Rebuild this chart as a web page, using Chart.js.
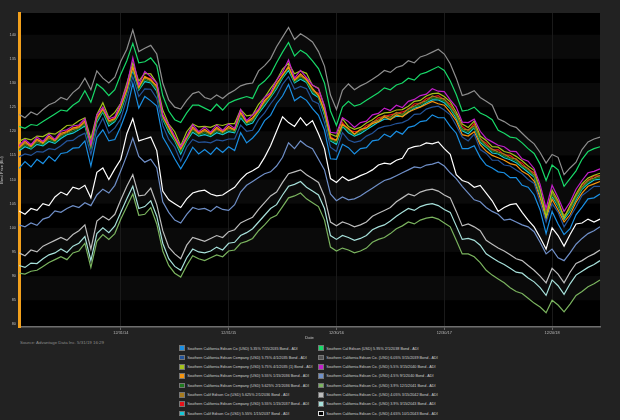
<!DOCTYPE html>
<html>
<head>
<meta charset="utf-8">
<script src="https://cdn.jsdelivr.net/npm/chart.js@4.4.0/dist/chart.umd.min.js"></script>
<style>
  body { margin:0; background:#222; width:620px; height:420px; overflow:hidden; font-family:"Liberation Sans", Arial, sans-serif; }
  #chart { position:absolute; left:0; top:0; }
  #source { position:absolute; left:20px; top:339.5px; font-size:4.4px; color:#8c8c8c; white-space:nowrap; }
  .col { position:absolute; top:344.5px; }
  .item { height:9.33px; line-height:9.33px; font-size:3.75px; color:#d0d0d0; white-space:nowrap; }
  .box { display:inline-block; width:3.6px; height:3.6px; border:0.6px solid #777; vertical-align:middle; margin-right:2.6px; position:relative; top:-0.3px; }
</style>
</head>
<body>
<canvas id="chart" width="620" height="340"></canvas>
<div id="source">Source: Advantage Data Inc. 5/31/19 16:29</div>
<div id="legL" class="col" style="left:179px"></div>
<div id="legR" class="col" style="left:318px"></div>
<script>
// x axis: one category per point, labelled only at these points
const xTickIdx = [17, 35, 53, 71, 89];
const xTickLabels = ['12/31/14', '12/31/15', '12/30/16', '12/30/17', '12/20/18'];
const yTicks = [80, 85, 90, 95, 100, 105, 110, 115, 120, 125, 130, 135, 140];

const seriesNames = [
  'Southern California Edison Co (USD) 5.35% 7/15/2035 Bond - ADI',
  'Southern California Edison Company (USD) 5.75% 4/1/2035 Bond - ADI',
  'Southern California Edison Company (USD) 5.75% 4/1/2035 (1) Bond - ADI',
  'Southern California Edison Company (USD) 5.55% 1/15/2036 Bond - ADI',
  'Southern California Edison Company (USD) 5.625% 2/1/2036 Bond - ADI',
  'Southern Calif Edison Co (USD) 5.625% 2/1/2036 Bond - ADI',
  'Southern California Edison Company (USD) 5.55% 1/15/2037 Bond - ADI',
  'Southern Calif Edison Co (USD) 5.55% 1/15/2037 Bond - ADI',
  'Southern Cal Edison (USD) 5.95% 2/1/2038 Bond - ADI',
  'Southern California Edison Co. (USD) 6.05% 3/15/2039 Bond - ADI',
  'Southern California Edison Co. (USD) 5.5% 3/15/2040 Bond - ADI',
  'Southern California Edison Co. (USD) 4.5% 9/1/2040 Bond - ADI',
  'Southern California Edison Co. (USD) 3.9% 12/1/2041 Bond - ADI',
  'Southern California Edison Co. (USD) 4.05% 3/15/2042 Bond - ADI',
  'Southern California Edison Co. (USD) 3.9% 3/15/2043 Bond - ADI',
  'Southern California Edison Co. (USD) 4.65% 10/1/2043 Bond - ADI'
];
const lineColors = ['#1a8fe3','#24549a','#a4c21c','#f5950f','#1f7a1f','#a87b1e','#e8121a','#16c8d8',
                    '#18d868','#8e8e8e','#c21fc9','#6f8fc8','#7ab35e','#bdbdbd','#a6e0da','#ffffff'];
const boxColors  = ['#1a8fe3','#24549a','#a4c21c','#f5950f','#1f7a1f','#a87b1e','#e8121a','#16c8d8',
                    '#18d868','#555555','#c21fc9','#6f8fc8','#7ab35e','#bdbdbd','#a6e0da','#000000'];

const sce535_2035 = [112.3,113.7,112.6,114.2,113.3,114.8,113.8,115.4,115.6,116.5,
  116.6,118,112.8,118.7,120.3,118,118.3,121,124.3,129.9,
  124.8,127.2,126.3,125.2,118.8,116.7,114.3,112.2,114.3,116.7,
  115.3,116.2,115.2,116.6,115.6,116.8,116,119.7,117.6,118.6,
  120,122.2,123.3,125.7,127.3,129.7,126.3,127.2,126.4,124.7,
  123.3,120.2,114.3,114.2,117.3,116.6,115.3,116.4,116.6,118,
  118.2,119.4,118.8,120,119.4,120.8,121.1,122,122.2,123.4,
  122.8,122.8,121,119.6,116.4,116.4,117,114.6,113,112.4,
  111.6,111.4,110.4,110.4,108.8,108.4,106.8,103.7,98.8,103.4,
  100.8,98.6,99.8,102.7,104.3,106,106.2,107];
const sce575_2035 = [114.7,115.3,115,115.8,115.7,116.4,116.2,117,118,118.1,
  119,119.6,115.2,120.3,122.7,119.6,120.7,122.6,126.7,131.3,
  127.2,128.8,128.7,126.8,121.2,118.3,116.7,113.8,116.7,118.3,
  117.7,117.8,117.6,118.2,118,118.4,118.4,121.3,120,120.2,
  122.4,123.8,125.7,127.3,129.7,131.3,128.7,129.3,128.8,126.3,
  125.7,121.8,116.7,115.8,119.7,118.2,117.7,118,119,119.6,
  120.6,121,121.2,121.6,121.8,122.4,123.5,123.6,124.6,125,
  125.2,124.4,123.4,121.2,118.8,118,119.4,116.2,115.4,114,
  114,113,112.8,112,111.2,110,109.2,105.3,101.2,105,
  103.2,100.2,102.2,104.3,106.7,107.6,108.6,108.6];
const sce575_2035b = [117.9,118.5,118.2,119,118.9,119.6,119.4,120.2,121.2,121.3,
  122.2,122.8,118.4,123.5,125.9,122.8,123.9,125.8,129.9,134.2,
  130.4,132,131.9,130,124.4,121.5,119.9,117,119.9,121.5,
  120.9,121,120.8,121.4,121.2,121.6,121.6,124.5,123.2,123.4,
  125.6,127,128.9,130.5,132.9,134.1,131.9,132.5,132,129.5,
  128.9,125,119.4,118.9,122.6,121,120.4,120.8,121.7,122.4,
  123.3,123.8,123.9,124.4,124.5,125.2,126.2,126.4,127.3,127.8,
  127.9,127.2,126.1,124,121.5,120.8,122.1,119,118.1,116.8,
  116.7,115.8,115.5,114.8,113.9,112.8,111.9,108.1,102.2,107.8,
  105.6,102,104.6,107,109.1,110.3,110.9,111.3];
const sce555_2036 = [116.6,117.9,116.9,118.4,117.6,119,118.1,119.6,119.9,120.7,
  120.9,122.2,117.1,122.9,124.6,122.2,122.6,125.2,128.6,133.3,
  129.1,131.4,130.6,129.4,123.1,120.9,118.6,116.4,118.6,120.9,
  119.6,120.4,119.5,120.8,119.9,121,120.3,123.9,121.9,122.8,
  124.3,126.4,127.6,129.9,131.6,133.3,130.6,131.9,130.7,128.9,
  127.4,124.2,118.6,118.2,121.4,120.6,119.4,120.4,120.7,121.6,
  122,123,122.4,123.4,123,124,124.5,125,125.6,126.2,
  125.7,125.4,123.9,122.2,119.3,119,119.9,117.2,115.9,115,
  114.5,114,113.3,113,111.7,111,109.7,106.2,101.8,105.9,
  103.7,101.2,102.7,105.3,107.2,108.6,109.1,109.6];
const sce5625_2036 = [116.2,117.2,116.5,117.7,117.2,118.3,117.7,118.9,119.5,120,
  120.5,121.5,116.7,122.2,124.2,121.5,122.2,124.5,128.2,133.1,
  128.7,130.7,130.2,128.7,122.7,120.2,118.2,115.7,118.2,120.2,
  119.2,119.7,119.1,120.1,119.5,120.3,119.9,123.2,121.5,122.1,
  123.9,125.7,127.2,129.2,131.2,133.1,130.2,131.2,130.3,128.2,
  127.2,123.7,118.2,117.7,121.2,120.1,119.2,119.9,120.5,121.5,
  122.1,122.9,122.7,123.5,123.3,124.3,125,125.5,126.1,126.9,
  126.7,126.3,124.9,123.1,120.3,119.9,120.9,118.1,116.9,115.9,
  115.5,114.9,114.3,113.9,112.7,111.9,110.7,107.2,102.7,106.9,
  104.7,102.1,103.7,106.2,108.2,109.5,110.1,110.5];
const calif5625_2036 = [116.4,117.6,116.7,118.1,117.4,118.7,117.9,119.3,119.7,120.4,
  120.7,121.9,116.9,122.6,124.4,121.9,122.4,124.9,128.4,133.4,
  128.9,131.1,130.4,129.1,122.9,120.6,118.4,116.1,118.4,120.6,
  119.4,120.1,119.3,120.5,119.7,120.7,120.1,123.6,121.7,122.5,
  124.1,126.1,127.4,129.6,131.4,133.6,130.4,131.6,130.5,128.6,
  127.4,124.1,118.4,118.1,121.4,120.5,119.4,120.3,120.7,121.9,
  122.3,123.3,122.9,123.9,123.5,124.7,125.2,125.9,126.3,127.3,
  126.9,126.7,125.1,123.5,120.5,120.3,121.1,118.5,117.1,116.3,
  115.7,115.3,114.5,114.3,112.9,112.3,110.9,107.6,102.9,107.3,
  104.9,102.5,103.9,106.6,108.4,109.9,110.3,110.9];
const sce555_2037 = [116.8,117.4,117.3,118.1,117.9,118.5,118.4,119.1,120.2,120.4,
  121.2,121.6,117.5,122.4,124.9,121.9,122.9,124.7,128.8,133.2,
  129.4,131.1,130.9,128.9,123.4,120.4,118.9,116.2,118.8,120.4,
  119.9,120.1,119.8,120.3,120.2,120.5,120.6,123.4,122.2,122.3,
  124.6,125.9,127.9,129.4,131.8,133.2,130.9,131.4,131,128.4,
  127.9,123.9,118.9,117.9,121.8,120.3,119.9,120.1,121.2,121.7,
  122.8,123.1,123.4,123.7,124,124.5,125.7,125.7,126.8,127.1,
  127.4,126.5,125.6,123.3,121,120.1,121.6,118.3,117.6,116.1,
  116.2,115.1,115,114.1,113.4,112.1,111.4,107.4,103.4,107.1,
  105.4,102.3,104.4,106.4,108.9,109.7,110.8,110.7];
const calif555_2037 = [115.9,116.8,116.3,117.3,117,117.9,117.5,118.5,119.3,119.6,
  120.3,121.1,116.5,121.8,124,121.1,122,124.1,128,132.6,
  128.5,130.3,130,128.3,122.5,119.8,118,115.3,118,119.8,
  119,119.3,118.9,119.7,119.3,119.9,119.7,122.8,121.3,121.7,
  123.7,125.3,127,128.8,131,132.6,130,130.8,130.1,127.8,
  127,123.3,118,117.3,121,119.7,119,119.5,120.3,121.1,
  121.9,122.5,122.5,123.1,123.1,123.9,124.8,125.1,125.9,126.5,
  126.5,125.9,124.7,122.7,120.1,119.5,120.7,117.7,116.7,115.5,
  115.3,114.5,114.1,113.5,112.5,111.5,110.5,106.8,102.5,106.5,
  104.5,101.7,103.5,105.8,108,109.1,109.9,110.1];
const cal595_2038 = [121,120.6,121.4,121.2,122,122.8,123.6,124.4,124.2,125.4,
  126.2,128.4,126,129.8,128.8,127.4,128.6,131.8,134.6,138.2,
  134.2,134.4,135.2,133.6,127.4,124.2,122.4,121.8,123.8,125.4,
  125.4,124.8,124.2,125.6,124.4,125.8,126.4,126.8,127.2,126.8,
  129.4,130.4,131.8,134.2,136.4,138.4,135.6,136.8,136,134.6,
  133,130,124.2,121.2,125,126.2,125.2,125.6,126.4,127.2,
  128,129,128.6,129.6,130,131,130.6,131.8,132.2,132.8,
  133.4,132.6,130.4,127.6,124.2,124.4,125,123.8,123.2,122.4,
  120.2,119.6,118.8,118.6,117.6,116.4,115.4,113.2,109.8,113,
  112,108.6,110.2,111.8,114.2,115.8,116.4,116.8];
const sce605_2039 = [123.5,122.8,124,123.4,124.5,125.5,126,127,126.5,128,
  129,131,128.6,132.5,131,130,131.2,134.5,137,141,
  136.5,137.2,137.8,136,130,126.5,125,124.6,126.4,127.8,
  128.2,127,126.6,127.5,126.8,127.8,128.5,129.4,129.8,130,
  132.5,133.6,135,137.5,139.5,141.5,139,140.2,139.4,138.5,
  136.5,133.5,127.5,124.5,128.5,129.8,128.6,129.4,130,130.8,
  131.6,132.6,132.2,133.2,133.6,134.6,134.2,135.4,135.8,136.4,
  137,136,134,131,127.4,127.8,128.4,127,126.2,125.4,
  122.6,122,121.2,120.8,119.6,118.4,117.4,115.6,113.4,115.2,
  114.6,111,112.4,113.6,116.2,117.8,118.4,118.8];
const sce55_2040 = [117,118.3,117.2,118.8,117.9,119.4,118.3,120,120.3,121.1,
  121.3,122.6,117.3,123.4,125,122.6,123,125.8,129.4,135.2,
  129.6,132.4,131.3,130,123.4,121.4,118.9,116.8,118.9,121.4,
  119.9,120.9,119.8,121.3,120.2,121.5,120.6,124.5,122.2,123.4,
  124.6,127,128,130.6,132.2,134.8,131,132.6,131.1,129.6,
  128.8,125.3,119.8,119.6,122.8,122,120.8,121.8,122.1,123.4,
  123.7,124.8,124.3,125.4,124.9,126.2,126.6,127.4,127.7,128.8,
  128.3,128.2,126.5,125,121.9,121.8,122.5,120,118.5,117.8,
  117.1,116.8,115.9,115.8,114.3,113.8,112.3,109,104,108.8,
  106.3,103.4,105.3,108,109.8,111.4,111.7,112.2];
const sce45_2040 = [100.6,100.2,101,100.5,101.8,102.2,103.5,103.2,104,104.6,
  104.2,105.2,104.6,106.8,108,107.2,108.8,111.8,115,118.6,
  114.8,113.6,114.2,112.4,105.4,103.2,101.6,101,102.8,104.2,
  103.8,104,103.4,104.4,103.8,103.6,104.8,107.4,108.8,109.6,
  110.4,111.2,111.6,112.8,114.6,117.6,116.4,118,117,116.4,
  114.2,112,107,105.6,106.4,105.8,106,106.6,107.4,108.2,
  109,109.8,110.2,110.8,111.4,112,112.6,112.4,113,113.2,
  113.6,112.8,111.4,110.2,108.6,107.2,105.8,105.4,104.2,103.4,
  102.8,101.6,101.8,101.2,100.6,100.2,99.2,97,94.6,95.6,
  93.8,93.2,94.8,96.6,97.8,98.8,99.4,100.2];
const sce39_2041 = [90.6,90.4,91,91.2,92,92.8,93.4,94,93.4,94.8,
  95.2,96.8,91.8,97.2,98.6,97.6,98.8,101.8,104.4,107,
  102.6,102.8,104.2,100.8,95.2,92.2,90.6,89.8,92.2,94.2,
  93.6,93.2,93.8,94.4,94,95.2,95.4,96.8,97.2,97.8,
  99.4,100.6,102,102.6,104.4,106.2,106.6,107.2,106,105.2,
  104.4,101.6,96,95.2,95.8,95.4,94.8,95.2,95.8,97,
  97.6,98,98.8,99.8,100.4,101.2,100.8,101.6,102,102.2,
  101.8,101,100.2,97.4,94.6,94.6,94,92.8,91.2,90.2,
  89.4,88.6,87.6,86.8,86.4,85.4,84.4,83.6,82.4,85,
  84,82.6,84.2,86,86.8,87.8,88.4,89.2];
const sce405_2042 = [94.8,94.2,95.4,95,96.2,96.8,97.4,98,97.4,98.6,
  99.4,100.6,95.6,101.4,102.4,101.6,102.8,105.8,108.6,111,
  106.6,106.8,108.2,104.8,99.4,96,94.6,93.6,96.4,98,
  97.6,97.2,97.8,98.4,98,99.2,99.6,101,101.6,102.2,
  103.8,105.2,106.6,107.4,109.4,111.2,111.6,112,111,110.2,
  109.4,106.5,101.2,100.4,101.2,100.8,100.2,100.6,101.2,102.4,
  103,103.6,104.2,105.4,106.2,107,106.6,107.4,107.8,108,
  107.6,106.8,106.2,103.4,100.4,100.8,100.2,99.4,97.4,96.6,
  95.8,95.2,94.4,93.6,93.2,92.2,91.2,90,88.6,91.6,
  90.4,88.6,90.8,92.6,93.2,94,94.6,95.4];
const sce39_2043 = [92.2,91.8,92.7,92.6,93.6,94.4,94.8,95.6,94.9,96.2,
  96.8,98.2,93.2,98.8,100,99,100.4,103.2,106,108.6,
  104,104.4,105.6,102.4,96.8,93.6,92,91.2,93.8,95.6,
  95,94.8,95.2,96,95.4,96.8,97,98.4,99,99.8,
  101.2,102.6,104,104.8,106.8,108.6,109,109.6,108.4,107.6,
  106.8,104,98.4,97.6,98.4,98,97.4,97.8,98.4,99.6,
  100.2,100.6,101.4,102.4,103.2,104,103.6,104.4,104.8,105,
  104.6,103.8,103.2,100.4,97.6,97.8,97.4,96.4,94.6,93.8,
  93,92.4,91.6,90.8,90.6,89.6,88.8,87.6,86,89.2,
  88,86.2,88.4,90.2,91,91.8,92.4,93.2];
const sce465_2043 = [103.5,102.8,104,103.6,105,104.6,106.4,107.4,106.8,108.4,
  108,108.8,106.2,111.5,112.4,110,112.2,114.2,119.5,122.6,
  118,118.4,118.8,116,107.6,105.8,105,104.2,106,107.2,
  107.6,107.8,107,106.6,106.8,107.6,108.4,110,111.2,111.8,
  112.6,114.6,117,120,123,121.8,121,122.8,121.2,122.2,
  119.5,116.4,110.2,109.4,110.6,109.8,110.2,110.8,111.3,112,
  113,113.4,113.2,114,114.4,116.4,116.8,117,117.6,117.4,
  117.8,116.4,115.2,111,109.8,109.4,108.4,108.8,107.2,105.6,
  103.4,104.2,104.8,105,103.2,101.6,100.2,98,95.6,100,
  98.4,96.2,98.6,100.8,101,101.8,101.2,101.8];

const seriesValues = [sce535_2035, sce575_2035, sce575_2035b, sce555_2036, sce5625_2036, calif5625_2036,
  sce555_2037, calif555_2037, cal595_2038, sce605_2039, sce55_2040, sce45_2040, sce39_2041,
  sce405_2042, sce39_2043, sce465_2043];

const categories = sce535_2035.map(() => '');
xTickIdx.forEach((idx, k) => { categories[idx] = xTickLabels[k]; });

// drawn-on-top series get a lower order
const topSeries = [10, 15];

const plotBands = {
  id: 'plotBands',
  beforeDraw(chart) {
    const { ctx, chartArea: a, scales: { y } } = chart;
    ctx.save();
    ctx.fillStyle = '#000';
    ctx.fillRect(a.left, a.top, a.width, a.height);
    ctx.fillStyle = '#0a0a0a';
    for (let v = 85; v < 140; v += 10) {
      const t = y.getPixelForValue(v + 5), b = y.getPixelForValue(v);
      ctx.fillRect(a.left, t, a.width, b - t);
    }
    ctx.restore();
  }
};

const tickFont = { family: '"Liberation Sans", Arial, sans-serif', size: 3.9 };

new Chart(document.getElementById('chart').getContext('2d'), {
  type: 'line',
  data: {
    labels: categories,
    datasets: seriesNames.map((name, i) => ({
      label: name,
      data: seriesValues[i],
      borderColor: lineColors[i],
      borderWidth: 1.2,
      pointRadius: 0,
      tension: 0,
      fill: false,
      order: topSeries.includes(i) ? 0 : 1
    }))
  },
  options: {
    responsive: false,
    animation: false,
    layout: { padding: { left: 0, top: 13, right: 20, bottom: 0 } },
    plugins: { legend: { display: false }, tooltip: { enabled: false } },
    scales: {
      x: {
        type: 'category',
        offset: false,
        grid: { color: '#1a1a1a', tickColor: '#666', tickLength: 3 },
        border: { color: '#6e6e6e', width: 1.5 },
        ticks: { color: '#bdbdbd', font: tickFont, autoSkip: false, maxRotation: 0, padding: 0.5 },
        title: { display: true, text: 'Date', color: '#cfcfcf', font: { family: tickFont.family, size: 4 }, padding: 0 },
        afterBuildTicks: s => { s.ticks = xTickIdx.map(v => ({ value: v })); },
        afterFit: s => { s.height = 13; }
      },
      y: {
        min: 79.45,
        max: 144.5,
        grid: { display: false, drawTicks: false },
        border: { color: '#f2a01c', width: 3 },
        ticks: { color: '#bdbdbd', font: tickFont, padding: 3 },
        title: { display: true, text: 'Bond Price (Bid)', color: '#cfcfcf', font: { family: tickFont.family, size: 3.8 }, padding: 0 },
        afterBuildTicks: s => { s.ticks = yTicks.map(v => ({ value: v })); },
        afterFit: s => { s.width = 19; }
      }
    }
  },
  plugins: [plotBands]
});

// two-column legend
seriesNames.forEach((name, i) => {
  const item = document.createElement('div');
  item.className = 'item';
  const box = document.createElement('span');
  box.className = 'box';
  box.style.background = boxColors[i];
  if (i === 15) box.style.borderColor = '#ddd';
  item.appendChild(box);
  item.appendChild(document.createTextNode(name));
  document.getElementById(i < 8 ? 'legL' : 'legR').appendChild(item);
});
</script>
</body>
</html>
